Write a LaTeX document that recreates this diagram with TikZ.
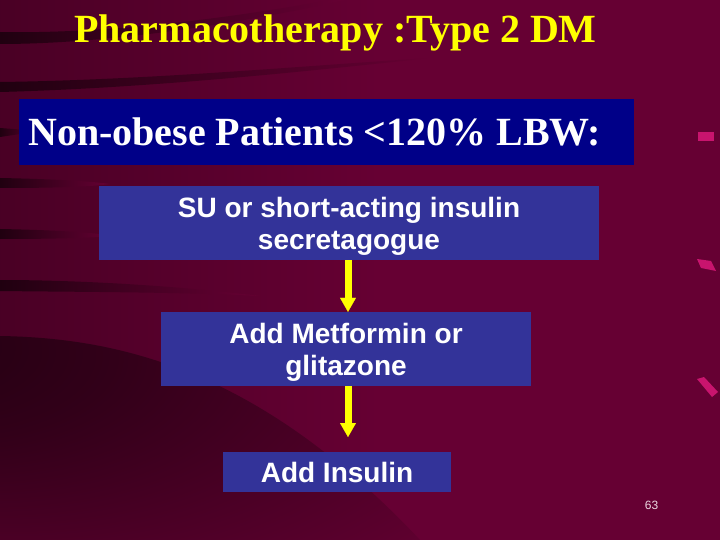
\documentclass[tikz,border=0pt]{standalone}
\usepackage{fontspec}
\setmainfont{Liberation Serif}
\setsansfont{Liberation Sans}
\usetikzlibrary{arrows.meta}
\definecolor{slidebg}{RGB}{102,0,51}
\definecolor{streak}{RGB}{32,0,16}
\definecolor{headnavy}{RGB}{0,0,136}
\definecolor{boxblue}{RGB}{51,51,153}
\definecolor{titleyellow}{RGB}{255,255,0}
\definecolor{dotpink}{RGB}{200,20,110}
\definecolor{pagegrey}{RGB}{235,215,225}
\pgfdeclareradialshading{lowshadow}{\pgfpoint{-40bp}{25bp}}{color(0bp)=(streak);color(20bp)=(streak!75!slidebg);color(62bp)=(slidebg);color(100bp)=(slidebg)}
\begin{document}
\begin{tikzpicture}[x=1pt,y=-1pt,
  title/.style={text=titleyellow,font=\fontsize{40}{48}\selectfont\bfseries,inner sep=0pt},
  header/.style={fill=headnavy,text=white,font=\fontsize{40}{48}\selectfont\bfseries,text width=597pt,align=flush left,inner xsep=9pt,minimum height=66pt},
  stepbox/.style={fill=boxblue,text=white,font=\sffamily\bfseries\fontsize{28}{32}\selectfont,align=center},
  flow/.style={titleyellow,line width=7pt,-{Triangle[width=16pt,length=14pt,line width=0.1pt]}},
  band/.style={left color=streak,right color=slidebg}]
    \fill[slidebg] (0,0) rectangle (720,540);
    \useasboundingbox (0,0) rectangle (720,540);
    \shade[left color=slidebg!72!black,right color=slidebg] (0,0) rectangle (380,540);
    \shade[band] (0,32) .. controls (100,34) and (220,20) .. (330,0) -- (345,0) .. controls (230,26) and (100,44) .. (0,44) -- cycle;
    \shade[band] (0,82) .. controls (150,80) and (300,66) .. (430,58) .. controls (300,72) and (150,88) .. (0,92) -- cycle;
    \shade[band] (0,128) -- (40,131) -- (0,137) -- cycle;
    \shade[band] (0,178) .. controls (50,179) and (90,181) .. (110,184) .. controls (90,187) and (50,188) .. (0,188) -- cycle;
    \shade[band] (0,229) .. controls (50,230) and (90,232) .. (115,236) .. controls (90,238) and (50,239) .. (0,239) -- cycle;
    \shade[band] (0,280) .. controls (80,280) and (180,286) .. (260,296) .. controls (180,292) and (80,292) .. (0,291) -- cycle;
    \shade[shading=lowshadow] (0,336) .. controls (120,338) and (260,370) .. (420,540) -- (0,540) -- cycle;
    \fill[dotpink] (698,132) rectangle (714,141);
    \fill[dotpink] (697,259) -- (711,261) -- (716,271) -- (701,268) -- cycle;
    \fill[dotpink] (697,379) -- (704,377) -- (718,392) -- (712,397) -- cycle;
    \node[title,anchor=base] (ttl) at (335.5,43) {Pharmacotherapy :Type 2 DM};
    \node[header,anchor=north west] (hdr) at (19,99) {Non-obese Patients <120\% LBW:};
    \node[stepbox,text depth=-3pt,minimum width=500pt,minimum height=74pt] (su) at (349,223) {SU or short-acting insulin\\secretagogue};
    \node[stepbox,text depth=-3pt,minimum width=370pt,minimum height=74pt] (met) at (346,349) {Add Metformin or\\glitazone};
    \node[stepbox,minimum width=228pt,minimum height=40pt] (ins) at (337,472) {Add Insulin};
    \node[text=pagegrey,font=\sffamily\fontsize{12}{14}\selectfont] (pg) at (651.5,505) {63};
    \coordinate (axis) at (348,0);
    \coordinate (insend) at (348,437);
    \draw[flow] (su.south -| axis) -- (met.north -| axis);
    \draw[flow] (met.south -| axis) -- (insend);
\end{tikzpicture}
\end{document}
